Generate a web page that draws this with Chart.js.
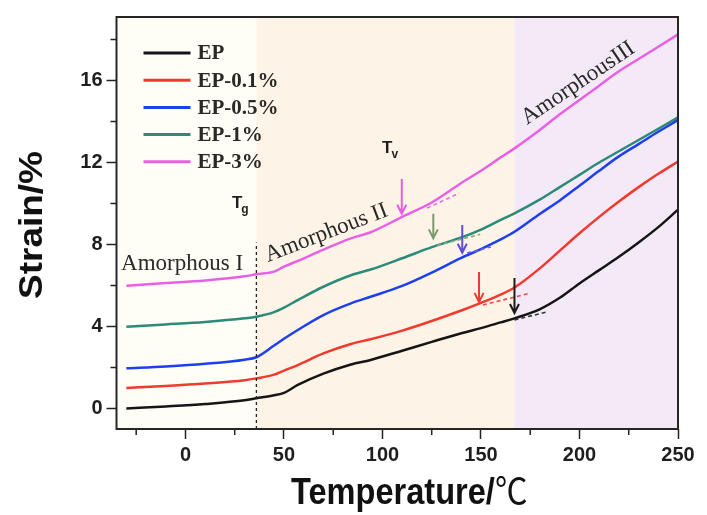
<!DOCTYPE html>
<html>
<head>
<meta charset="utf-8">
<script src="https://cdn.jsdelivr.net/npm/chart.js@4.4.0/dist/chart.umd.min.js"></script>
<style>
  html, body { margin: 0; padding: 0; background: #fff; }
</style>
</head>
<body>
<canvas id="strainChart" width="707" height="515"></canvas>
<script>
// temperature points shared by all curves (°C)
const temps = [-30, -10, 10, 30, 36, 45, 50, 57, 70, 84, 94, 110, 125, 140, 150, 160, 167, 180, 190, 200, 210, 220, 230, 240, 250];

// strain (%) per sample
const strainEP  = [0.0, 0.1, 0.22, 0.4, 0.5, 0.65, 0.76, 1.15, 1.7, 2.15, 2.37, 2.82, 3.25, 3.67, 3.92, 4.2, 4.4, 4.85, 5.4, 6.1, 6.75, 7.4, 8.1, 8.85, 9.7];
const strain01  = [1.0, 1.1, 1.22, 1.38, 1.47, 1.65, 1.85, 2.12, 2.69, 3.15, 3.38, 3.8, 4.27, 4.78, 5.15, 5.55, 5.9, 6.85, 7.7, 8.55, 9.35, 10.1, 10.8, 11.45, 12.05];
const strain05  = [1.96, 2.05, 2.18, 2.38, 2.5, 3.07, 3.4, 3.83, 4.56, 5.13, 5.45, 5.98, 6.63, 7.35, 7.78, 8.25, 8.62, 9.5, 10.15, 10.87, 11.6, 12.3, 12.9, 13.5, 14.07];
const strain1   = [3.99, 4.1, 4.22, 4.4, 4.48, 4.7, 4.92, 5.29, 5.94, 6.5, 6.78, 7.33, 7.87, 8.35, 8.73, 9.2, 9.52, 10.2, 10.8, 11.4, 12.0, 12.55, 13.1, 13.65, 14.2];
const strain3   = [5.99, 6.12, 6.25, 6.45, 6.55, 6.68, 6.92, 7.2, 7.75, 8.3, 8.6, 9.35, 10.05, 11.0, 11.6, 12.25, 12.69, 13.6, 14.35, 15.05, 15.75, 16.45, 17.05, 17.65, 18.25];

const seriesNames  = ['EP', 'EP-0.1%', 'EP-0.5%', 'EP-1%', 'EP-3%'];
const seriesValues = [strainEP, strain01, strain05, strain1, strain3];
const seriesColors = ['#151515', '#f03a2e', '#1c3ff0', '#2b8a78', '#e860e6'];

// amorphous regions (°C) and their fills
const regionEdges = [-35, 36, 167, 250];
const regionFills = ['#fefdf6', '#fdf4e7', '#f4e9f7'];
const tgTemp = 36, tgLineTop = 8.1;

// transition arrows: temperature, start strain, end strain
const arrowTemps  = [109.8, 125.8, 140.5, 149, 167];
const arrowFrom   = [11.2, 9.5, 8.95, 6.66, 6.37];
const arrowTo     = [9.5, 8.3, 7.6, 5.2, 4.66];
const arrowColors = ['#e65ce4', '#7d9a6e', '#5b4fd8', '#ee3b30', '#1a1a1a'];

// dashed tangent segments: [t1, s1, t2, s2]
const tangents = [
  [122.6, 9.78, 138.9, 10.5],
  [127.7, 7.96, 149.6, 8.5],
  [143, 7.58, 155, 7.88],
  [151, 5.05, 175, 5.63],
  [167, 4.32, 183, 4.7]
];
const tangentColors = ['#e870e6', '#8fa37f', '#6b5ed8', '#ee4b4b', '#333'];

Chart.defaults.font.family = "'Liberation Sans', Arial, sans-serif";

const serif = "'Liberation Serif', 'Times New Roman', serif";
const sans = "'Liberation Sans', Arial, sans-serif";
const cjk = "'Noto Sans CJK SC', sans-serif";

function drawSubscripted(ctx, x, y, main, sub) {
  ctx.font = 'bold 17px ' + sans;
  ctx.fillText(main, x, y);
  const w = ctx.measureText(main).width;
  ctx.font = 'bold 12px ' + sans;
  ctx.fillText(sub, x + w - 1, y + 5);
}

function drawRotated(ctx, text, x, y, angle) {
  ctx.save();
  ctx.translate(x, y);
  ctx.rotate(angle * Math.PI / 180);
  ctx.fillText(text, 0, 0);
  ctx.restore();
}

const decor = {
  id: 'decor',
  beforeDraw(chart) {
    const { ctx, chartArea: a, scales: { x } } = chart;
    ctx.save();
    for (let i = 0; i < regionFills.length; i++) {
      const x0 = x.getPixelForValue(regionEdges[i]);
      const x1 = x.getPixelForValue(regionEdges[i + 1]);
      ctx.fillStyle = regionFills[i];
      ctx.fillRect(x0, a.top, x1 - x0, a.bottom - a.top);
    }
    ctx.restore();
  },
  afterDatasetsDraw(chart) {
    const { ctx, chartArea: a, scales: { x, y } } = chart;
    ctx.save();

    // Tg marker line
    ctx.strokeStyle = '#222';
    ctx.lineWidth = 1.3;
    ctx.setLineDash([3, 3]);
    ctx.beginPath();
    ctx.moveTo(x.getPixelForValue(tgTemp), a.bottom);
    ctx.lineTo(x.getPixelForValue(tgTemp), y.getPixelForValue(tgLineTop));
    ctx.stroke();

    // tangents
    ctx.lineWidth = 1.6;
    ctx.setLineDash([4, 3]);
    tangents.forEach((t, i) => {
      ctx.strokeStyle = tangentColors[i];
      ctx.beginPath();
      ctx.moveTo(x.getPixelForValue(t[0]), y.getPixelForValue(t[1]));
      ctx.lineTo(x.getPixelForValue(t[2]), y.getPixelForValue(t[3]));
      ctx.stroke();
    });
    ctx.setLineDash([]);

    // arrows
    ctx.lineWidth = 2;
    arrowTemps.forEach((t, i) => {
      const px = x.getPixelForValue(t);
      const y0 = y.getPixelForValue(arrowFrom[i]);
      const y1 = y.getPixelForValue(arrowTo[i]);
      ctx.strokeStyle = arrowColors[i];
      ctx.beginPath();
      ctx.moveTo(px, y0);
      ctx.lineTo(px, y1);
      ctx.moveTo(px - 4.5, y1 - 9);
      ctx.lineTo(px, y1);
      ctx.lineTo(px + 4.5, y1 - 9);
      ctx.stroke();
    });

    // region labels
    ctx.fillStyle = '#2a2a2a';
    ctx.font = '23px ' + serif;
    ctx.textBaseline = 'alphabetic';
    ctx.fillText('Amorphous I', x.getPixelForValue(-32.7), y.getPixelForValue(6.76));
    drawRotated(ctx, 'Amorphous II', x.getPixelForValue(41.9), y.getPixelForValue(7.15), -21);
    drawRotated(ctx, 'AmorphousIII', x.getPixelForValue(173.4), y.getPixelForValue(13.83), -34);

    ctx.fillStyle = '#1e1e1e';
    drawSubscripted(ctx, x.getPixelForValue(23.6), y.getPixelForValue(9.78), 'T', 'g');
    drawSubscripted(ctx, x.getPixelForValue(99.8), y.getPixelForValue(12.46), 'T', 'v');

    // legend
    const lx = a.left + 27, ly = a.top + 36;
    ctx.font = 'bold 21px ' + serif;
    ctx.textBaseline = 'middle';
    chart.data.datasets.forEach((ds, i) => {
      const yy = ly + i * 27.2;
      ctx.strokeStyle = ds.borderColor;
      ctx.lineWidth = 3;
      ctx.beginPath();
      ctx.moveTo(lx, yy);
      ctx.lineTo(lx + 47, yy);
      ctx.stroke();
      ctx.fillStyle = '#2b2826';
      ctx.fillText(ds.label, lx + 54, yy + 1);
    });

    // minor tick marks
    ctx.strokeStyle = '#222';
    ctx.lineWidth = 1.5;
    ctx.beginPath();
    x.ticks.forEach(tk => {
      if (tk.value % 50 !== 0) {
        const px = x.getPixelForValue(tk.value);
        ctx.moveTo(px, a.bottom);
        ctx.lineTo(px, a.bottom + 6);
      }
    });
    y.ticks.forEach(tk => {
      if (tk.value % 4 !== 0) {
        const py = y.getPixelForValue(tk.value);
        ctx.moveTo(a.left, py);
        ctx.lineTo(a.left - 6, py);
      }
    });
    ctx.stroke();

    // frame
    ctx.strokeStyle = '#262626';
    ctx.lineWidth = 2;
    ctx.strokeRect(a.left, a.top, a.right - a.left, a.bottom - a.top);
    ctx.restore();
  },
  afterDraw(chart) {
    // axis titles, drawn slightly condensed
    const { ctx, chartArea: a } = chart;
    ctx.save();
    ctx.fillStyle = '#111';

    const xLabel = 'Temperature/';
    const unit = '℃';
    ctx.font = 'bold 37px ' + sans;
    const w1 = ctx.measureText(xLabel).width;
    ctx.font = '37px ' + cjk;
    const w2 = ctx.measureText(unit).width;
    ctx.save();
    ctx.translate((a.left + a.right) / 2 + 12, 504);
    ctx.scale(0.88, 1);
    ctx.textBaseline = 'alphabetic';
    ctx.textAlign = 'left';
    const sx = -(w1 + w2) / 2;
    ctx.font = 'bold 37px ' + sans;
    ctx.fillText(xLabel, sx, 0);
    ctx.font = '37px ' + cjk;
    ctx.fillText(unit, sx + w1, 1);
    ctx.restore();

    ctx.save();
    ctx.translate(33, (a.top + a.bottom) / 2 + 2);
    ctx.rotate(-Math.PI / 2);
    ctx.scale(1, 0.88);
    ctx.textAlign = 'center';
    ctx.textBaseline = 'middle';
    ctx.font = 'bold 37px ' + sans;
    ctx.fillText('Strain/%', 0, 0);
    ctx.restore();

    ctx.restore();
  }
};

const datasets = seriesNames.map((name, i) => ({
  label: name,
  data: temps.map((t, j) => ({ x: t, y: seriesValues[i][j] })),
  borderColor: seriesColors[i],
  borderWidth: 2.5,
  pointRadius: 0,
  cubicInterpolationMode: 'monotone',
  fill: false
}));

new Chart(document.getElementById('strainChart'), {
  type: 'line',
  data: { datasets },
  plugins: [decor],
  options: {
    responsive: false,
    animation: false,
    devicePixelRatio: 1,
    layout: { padding: { left: 0, right: 29, top: 17, bottom: 0 } },
    plugins: { legend: { display: false }, tooltip: { enabled: false } },
    scales: {
      x: {
        type: 'linear',
        min: -35,
        max: 250,
        afterFit: s => { s.height = 86; },
        border: { display: false },
        grid: {
          drawOnChartArea: false,
          tickLength: 10,
          tickWidth: 1.5,
          tickColor: c => (c.tick && c.tick.value % 50 === 0) ? '#222' : 'rgba(0,0,0,0)'
        },
        ticks: {
          stepSize: 25,
          includeBounds: false,
          autoSkip: false,
          maxRotation: 0,
          padding: 4,
          color: '#1e1e1e',
          font: { size: 20, weight: 'bold' },
          callback: v => (v % 50 === 0 ? v : '')
        }
      },
      y: {
        min: -1,
        max: 19.1,
        afterFit: s => { s.width = 116.5; },
        border: { display: false },
        grid: {
          drawOnChartArea: false,
          tickLength: 10,
          tickWidth: 1.5,
          tickColor: c => (c.tick && c.tick.value % 4 === 0) ? '#222' : 'rgba(0,0,0,0)'
        },
        ticks: {
          stepSize: 2,
          includeBounds: false,
          autoSkip: false,
          padding: 4,
          color: '#1e1e1e',
          font: { size: 20, weight: 'bold' },
          callback: v => (v % 4 === 0 ? v : '')
        }
      }
    }
  }
});
</script>
</body>
</html>
